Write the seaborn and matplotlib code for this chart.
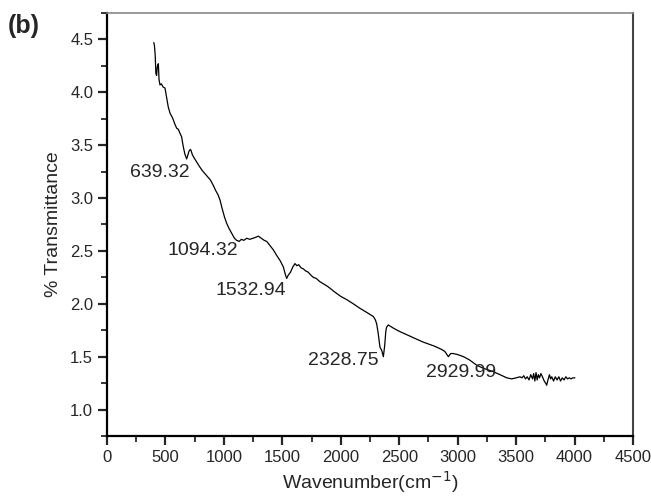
import numpy as np
import pandas as pd
import matplotlib
matplotlib.use("Agg")
import matplotlib.pyplot as plt
import seaborn as sns
from matplotlib.ticker import MultipleLocator

# FTIR spectrum
wavenumber = [400, 405, 412, 418, 424, 430, 439, 445, 453, 465, 480, 496, 510, 524, 540, 555, 567, 580,
              596, 610, 625, 638, 650, 665, 681, 690, 700, 712, 719, 730, 745, 767, 790, 815, 838, 860,
              885, 909, 930, 950, 967, 985, 1005, 1024, 1045, 1070, 1090, 1109, 1130, 1150, 1170, 1195,
              1220, 1250, 1275, 1294, 1320, 1345, 1366, 1395, 1423, 1450, 1480, 1508, 1525, 1537, 1550,
              1570, 1590, 1608, 1625, 1640, 1660, 1680, 1700, 1720, 1745, 1765, 1790, 1820, 1850, 1893,
              1950, 2000, 2050, 2107, 2160, 2220, 2278, 2295, 2307, 2320, 2335, 2350, 2364, 2375, 2385,
              2392, 2406, 2450, 2500, 2600, 2700, 2800, 2820, 2860, 2890, 2920, 2940, 2962, 3000, 3050,
              3100, 3162, 3220, 3300, 3362, 3420, 3462, 3500, 3533,
              3550, 3565, 3580, 3595, 3610, 3625, 3640, 3650, 3660, 3670, 3680, 3690, 3700, 3712, 3725,
              3740, 3752, 3761, 3772, 3785, 3795, 3805, 3820, 3835, 3850, 3865, 3880, 3895, 3910, 3925,
              3940, 3955, 3970, 3985, 4003]
transmittance = [4.47, 4.45, 4.35, 4.18, 4.16, 4.24, 4.27, 4.12, 4.07, 4.08, 4.05, 4.04, 3.95, 3.86, 3.80,
                 3.77, 3.74, 3.70, 3.66, 3.65, 3.61, 3.58, 3.50, 3.42, 3.37, 3.40, 3.44, 3.46, 3.45, 3.41,
                 3.38, 3.34, 3.30, 3.26, 3.23, 3.20, 3.17, 3.12, 3.07, 3.03, 2.98, 2.90, 2.82, 2.76, 2.71,
                 2.66, 2.62, 2.60, 2.59, 2.61, 2.60, 2.62, 2.61, 2.62, 2.63, 2.64, 2.62, 2.60, 2.59, 2.55,
                 2.51, 2.46, 2.41, 2.35, 2.28, 2.24, 2.27, 2.30, 2.35, 2.38, 2.36, 2.37, 2.34, 2.33, 2.31,
                 2.30, 2.27, 2.25, 2.24, 2.21, 2.19, 2.16, 2.11, 2.07, 2.04, 2.00, 1.96, 1.92, 1.88, 1.85,
                 1.81, 1.72, 1.59, 1.56, 1.50, 1.60, 1.74, 1.78, 1.80, 1.77, 1.74, 1.69, 1.64, 1.60, 1.59,
                 1.57, 1.55, 1.50, 1.53, 1.53, 1.52, 1.50, 1.47, 1.42, 1.39, 1.36, 1.33, 1.30, 1.29, 1.30,
                 1.31,
                 1.30, 1.32, 1.29, 1.31, 1.28, 1.33, 1.29, 1.34, 1.27, 1.35, 1.28, 1.33, 1.30, 1.34, 1.31,
                 1.27, 1.25, 1.23, 1.28, 1.33, 1.29, 1.31, 1.27, 1.31, 1.28, 1.31, 1.27, 1.30, 1.28, 1.31,
                 1.29, 1.30, 1.29, 1.30, 1.30]

peak_labels = ["639.32", "1094.32", "1532.94", "2328.75", "2929.99"]
label_x = [453, 821, 1232, 2019, 3028]
label_y = [3.24, 2.50, 2.13, 1.46, 1.35]

df = pd.DataFrame({"Wavenumber": wavenumber, "Transmittance": transmittance})

sns.set_style("ticks")
plt.rcParams['font.family'] = ['Liberation Sans', 'DejaVu Sans']

fig = plt.figure(figsize=(6.51, 4.98), dpi=100)
ax = fig.add_axes([0.1644, 0.1245, 0.808, 0.8494])

sns.lineplot(data=df, x="Wavenumber", y="Transmittance", color="black", linewidth=0.9,
             estimator=None, sort=False, ax=ax)

for txt, lx, ly in zip(peak_labels, label_x, label_y):
    ax.text(lx, ly, txt, fontsize=14, ha="center", va="center")

ax.set_xlim(0, 4500)
ax.set_ylim(0.75, 4.75)
ax.xaxis.set_major_locator(MultipleLocator(500))
ax.xaxis.set_minor_locator(MultipleLocator(250))
ax.yaxis.set_major_locator(MultipleLocator(0.5))
ax.yaxis.set_minor_locator(MultipleLocator(0.25))
ax.tick_params(which="major", direction="out", length=6.5, width=1.6, labelsize=12)
ax.tick_params(which="minor", direction="out", length=4, width=1.3)

ax.set_xlabel("Wavenumber(cm$^{-1}$)", fontsize=14, labelpad=3)
ax.set_ylabel("% Transmittance", fontsize=14, labelpad=6)

for side in ["left", "bottom"]:
    ax.spines[side].set_linewidth(1.6)
    ax.spines[side].set_color("black")
ax.spines["top"].set_color("#888888")
ax.spines["top"].set_linewidth(1.2)
ax.spines["right"].set_color("#444444")
ax.spines["right"].set_linewidth(1.5)

fig.text(0.012, 0.972, "(b)", fontsize=18, fontweight="bold", va="top")

plt.savefig("out.png", dpi=100)
